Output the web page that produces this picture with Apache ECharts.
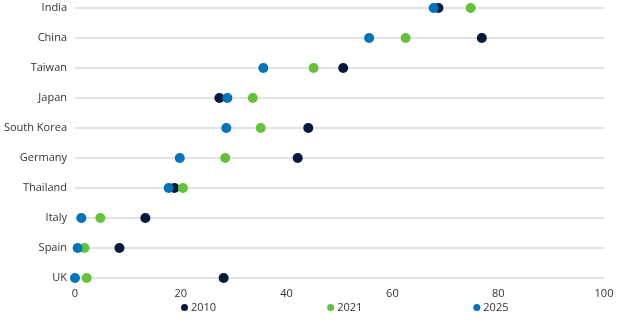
<!DOCTYPE html>
<html>
<head>
<meta charset="utf-8">
<script src="https://cdn.jsdelivr.net/npm/echarts@6/dist/echarts.min.js"></script>
<style>
html,body{margin:0;padding:0;background:#fff;}
#chart{width:644px;height:323px;}
</style>
</head>
<body>
<div id="chart"></div>
<script>
var categories = ['India','China','Taiwan','Japan','South Korea','Germany','Thailand','Italy','Spain','UK'];
var seriesNames = ['2010','2021','2025'];
var values2010 = [68.7, 76.9, 50.7, 27.3, 44.1, 42.1, 18.8, 13.3, 8.4, 28.1];
var values2021 = [74.8, 62.5, 45.1, 33.6, 35.1, 28.4, 20.4, 4.8, 1.8, 2.2];
var values2025 = [67.8, 55.6, 35.6, 28.8, 28.6, 19.8, 17.7, 1.2, 0.5, 0.0];
var xTicks = [0, 20, 40, 60, 80, 100];

var colors = ['#05193f', '#63c23a', '#0073bb'];
var allValues = [values2010, values2021, values2025];

function pairs(vals){
  return vals.map(function(v,i){ return [v, categories[i]]; });
}

var chart = echarts.init(document.getElementById('chart'), null, {renderer:'canvas'});
var font = '"Open Sans", "Noto Sans", sans-serif';
chart.setOption({
  animation:false,
  grid:{left:75, right:40, top:8, bottom:45, containLabel:false},
  xAxis:{
    type:'value', min:xTicks[0], max:xTicks[xTicks.length-1], interval:20,
    axisLine:{show:false}, axisTick:{show:false}, splitLine:{show:false},
    axisLabel:{color:'#333', fontFamily:font, fontSize:11, margin:10}
  },
  yAxis:{
    type:'category', data:categories, inverse:true, boundaryGap:false,
    axisLine:{show:false}, axisTick:{show:false},
    splitLine:{show:true, lineStyle:{color:'#e3e3e3', width:2}},
    axisLabel:{color:'#333', fontFamily:font, fontSize:11, margin:8}
  },
  legend:{
    bottom:5, left:176, itemGap:111, itemWidth:7, itemHeight:7, icon:'circle',
    textStyle:{color:'#333', fontFamily:font, fontSize:11, padding:[0,0,0,-2]},
    data:seriesNames
  },
  series: seriesNames.map(function(n,k){
    return {
      name:n, type:'scatter', symbol:'circle', symbolSize:10,
      itemStyle:{color:colors[k], opacity:1},
      data:pairs(allValues[k]), z:2+k
    };
  })
});
</script>
</body>
</html>
